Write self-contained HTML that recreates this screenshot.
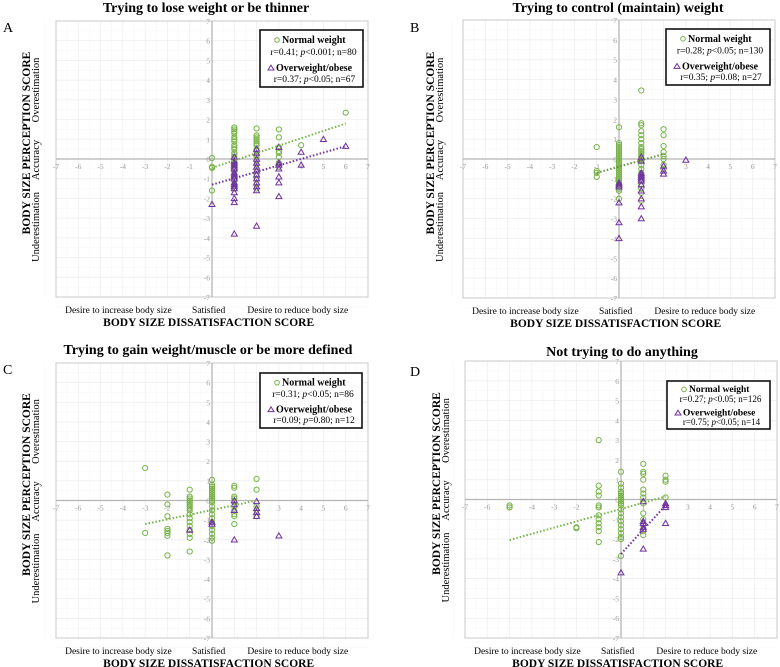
<!DOCTYPE html>
<html><head><meta charset="utf-8"><style>
html,body{margin:0;padding:0;background:#fff;}
svg{display:block;font-family:"Liberation Serif",serif;}
</style></head><body>
<svg id="fig" width="780" height="667" viewBox="0 0 780 667" xmlns="http://www.w3.org/2000/svg"></svg>
<script>
// ---- data (x value, list of y values) ----
const aNormal = [[0,[0.05,-0.4,-0.45,-1.6]],[1,[1.6,1.5,1.4,1.3,1.1,1.0,0.9,0.7,0.6,0.5,0.3,0.2,0.1,0,-0.1,-0.2,-0.3,-0.5,-0.7,-0.9,-1.1,-1.3,-1.5]],[2,[1.55,1.2,1.1,1.0,0.9,0.8,0.7,0.5,0.4,0.2,0.1,-0.1,-0.3,-0.5,-0.8,-1.0,-1.3,-1.5]],[3,[1.5,1.1,0.6,0.4,0.3,0.1,-0.2,-0.4]],[4,[0.7]],[6,[2.35]]];
const aOver = [[0,[-2.3]],[1,[0.1,-0.1,-0.2,-0.3,-0.4,-0.5,-0.7,-0.8,-0.9,-1.0,-1.2,-1.3,-1.4,-1.5,-1.7,-2.0,-2.2,-3.8]],[2,[0.5,0.3,0,-0.2,-0.4,-0.6,-0.8,-1.0,-1.2,-1.4,-1.6,-3.4]],[3,[0.6,-0.2,-0.3,-0.5,-0.9,-1.2,-1.9]],[4,[0.35,-0.3]],[5,[1.0]],[6,[0.65]]];
const bNormal = [[-1,[0.6,-0.6,-0.7,-0.9]],[0,[1.6,0.8,0.7,0.6,0.5,0.4,0.3,0.2,0.1,0,-0.1,-0.2,-0.3,-0.4,-0.5,-0.6,-0.7,-0.8,-0.9,-1.0,-1.1,-1.2,-1.3,-1.4,-1.5,-1.6,-2.0]],[1,[3.45,1.8,1.7,1.4,1.2,1.0,0.8,0.6,0.5,0.4,0.3,0.2,0.1,0,-0.1,-0.3,-0.5,-0.7,-0.9,-1.1,-1.3,-1.5,-1.7,-2.1]],[2,[1.5,1.2,0.65,0.35,0.15,0,-0.3,-0.5]]];
const bOver = [[0,[-1.2,-1.3,-1.4,-2.2,-3.2,-4.0]],[1,[0.1,-0.1,-0.7,-0.8,-0.9,-1.0,-1.1,-1.3,-1.6,-2.0,-2.4,-3.0]],[2,[-0.35,-0.6,-0.75]],[3,[-0.05]]];
const cNormal = [[-3,[1.65,-1.65]],[-2,[0.3,-0.2,-0.8,-1.45,-1.55,-1.65,-1.8,-2.8]],[-1,[0.55,0.2,0.1,0,-0.1,-0.2,-0.3,-0.4,-0.5,-0.7,-0.9,-1.1,-1.3,-1.5,-1.7,-1.9,-2.6]],[0,[1.05,0.8,0.7,0.6,0.5,0.4,0.3,0.2,0.1,0,-0.1,-0.3,-0.5,-0.7,-0.9,-1.1,-1.3,-1.5,-1.7,-1.9,-2.05]],[1,[0.75,0.65,0.2,0.1,-0.1,-0.3,-0.5,-0.7,-0.8,-1.2]],[2,[1.1,0.55,-0.3,-0.5,-0.8]]];
const cOver = [[-1,[-1.5]],[0,[-1.1,-1.2]],[1,[0,-0.2,-0.5,-2.0]],[2,[-0.05,-0.4,-0.6,-0.8]],[3,[-1.8]]];
const dNormal = [[-5,[-0.3,-0.4]],[-2,[-1.4,-1.45]],[-1,[3.0,0.7,0.4,0.2,-0.3,-0.4,-0.8,-1.0,-1.2,-1.4,-1.6,-2.15]],[0,[1.4,0.8,0.6,0.4,0.3,0.2,0.1,0,-0.1,-0.2,-0.3,-0.5,-0.7,-0.9,-1.1,-1.3,-1.5,-1.7,-1.9,-2.0,-2.85]],[1,[1.8,1.4,1.3,1.0,0.5,0.3,0.1,-0.1,-0.2,-0.7,-1.0,-1.3,-1.6,-1.8]],[2,[1.2,1.0,0.9,0.1]]];
const dOver = [[0,[-3.7]],[1,[-0.1,-1.1,-1.2,-1.4,-1.5,-2.5]],[2,[-0.2,-0.3,-0.4,-1.2]]];
// trend lines [x1,y1,x2,y2]
const aTrendN = [0,-0.45,6,1.8];
const aTrendO = [0,-1.3,6,0.65];
const bTrendN = [-1,-0.7,2,0.25];
const cTrendN = [-3,-1.2,2,0];
const dTrendN = [-5,-2.05,2,0.15];
const dTrendO = [0,-2.75,2,-0.3];
const xTicks = [-7,-6,-5,-4,-3,-2,-1,1,2,3,4,5,6,7];
const yTicks = [7,6,5,4,3,2,1,0,-1,-2,-3,-4,-5,-6,-7];
const titles = ["Trying to lose weight or be thinner","Trying to control (maintain) weight","Trying to gain weight/muscle or be more defined","Not trying to do anything"];
const stats = [[["0.41","<0.001","80"],["0.37","<0.05","67"]],[["0.28","<0.05","130"],["0.35","=0.08","27"]],[["0.31","<0.05","86"],["0.09","=0.80","12"]],[["0.27","<0.05","126"],["0.75","<0.05","14"]]];

const G="#77b347", P="#7030a0";
const svg=document.getElementById('fig');
const NS="http://www.w3.org/2000/svg";
function mk(tag,attrs,parent,text){const e=document.createElementNS(NS,tag);for(const k in attrs)e.setAttribute(k,attrs[k]);if(text!==undefined)e.textContent=text;(parent||svg).appendChild(e);return e;}

const panels=[
 {L:"A",x0:56,x1:368,y0:21,y1:297,tx:206,ty:12,Lx:3,lx:260,ly:30,lw:103,lh:57,yl:26,n:aNormal,o:aOver,tr:[[aTrendN,G],[aTrendO,P]]},
 {L:"B",x0:463,x1:775,y0:20,y1:298,tx:618,ty:12,Lx:410,lx:666,ly:29,lw:104,lh:56,yl:430,n:bNormal,o:bOver,tr:[[bTrendN,"#5f8c3a"]]},
 {L:"C",x0:56,x1:368,y0:363,y1:638,tx:208,ty:354,Lx:3,lx:260,ly:373,lw:102,lh:55,yl:26,n:cNormal,o:cOver,tr:[[cTrendN,G]]},
 {L:"D",x0:465,x1:777,y0:361,y1:638,tx:622,ty:356,Lx:410,lx:667,ly:381,lw:103,lh:48,yl:436,n:dNormal,o:dOver,tr:[[dTrendN,G],[dTrendO,P]]}
];

panels.forEach((p,i)=>{
 const g=mk('g',{});
 
 
 const sx=v=>p.x0+(v+7)*(p.x1-p.x0)/14;
 const sy=v=>p.y0+(7-v)*(p.y1-p.y0)/14;
 for(let v=-7;v<=7;v++){
  mk('line',{x1:sx(v),x2:sx(v),y1:p.y0,y2:p.y1,stroke:"#ececec","stroke-width":0.7},g);
  mk('line',{x1:p.x0,x2:p.x1,y1:sy(v),y2:sy(v),stroke:"#ececec","stroke-width":0.7},g);
  mk('line',{x1:sx(v-0.5),x2:sx(v-0.5),y1:p.y0,y2:p.y1,stroke:"#f5f5f5","stroke-width":0.5},g);
  mk('line',{x1:p.x0,x2:p.x1,y1:sy(v-0.5),y2:sy(v-0.5),stroke:"#f5f5f5","stroke-width":0.5},g);
 }
 const fr=mk('rect',{x:p.x0,y:p.y0,width:p.x1-p.x0,height:p.y1-p.y0,fill:"none",stroke:"#c8c8c8","stroke-width":1},g);
 
 
 const ax=mk('line',{x1:p.x0,x2:p.x1,y1:sy(0),y2:sy(0),stroke:"#b5b5b5","stroke-width":1.3},g);
 
 
 const ay=mk('line',{x1:sx(0),x2:sx(0),y1:p.y0,y2:p.y1,stroke:"#b5b5b5","stroke-width":1.3},g);
 
 
 xTicks.forEach(t=>{const e=mk('text',{x:sx(t),y:sy(0)+10,"font-size":7.5,fill:"#999","text-anchor":"middle"},g,String(t));
  
  });
 yTicks.forEach(t=>{const e=mk('text',{x:sx(0)-2,y:sy(t)+3,"font-size":7.5,fill:"#999","text-anchor":"end"},g,String(t));
  
  });
 p.n.forEach(([x,ys])=>ys.forEach(y=>{const c=mk('circle',{cx:sx(x),cy:sy(y),r:2.6,fill:"none",stroke:G,"stroke-width":1},g);
  
  }));
 p.o.forEach(([x,ys])=>ys.forEach(y=>{const X=sx(x),Y=sy(y);const t=mk('polygon',{points:`${X},${Y-3} ${X-3},${Y+2.2} ${X+3},${Y+2.2}`,fill:"none",stroke:P,"stroke-width":1},g);
  
  }));
 p.tr.forEach(([t,col])=>{const l=mk('line',{x1:sx(t[0]),y1:sy(t[1]),x2:sx(t[2]),y2:sy(t[3]),stroke:col,"stroke-width":2,"stroke-dasharray":"1.5,2"},g);
  
  });
 const ti=mk('text',{x:p.tx,y:p.ty,"font-size":14,"font-weight":"bold","text-anchor":"middle"},g,titles[i]);
 
 
 const le=mk('text',{x:p.Lx,y:p.ty+20,"font-size":14},g,p.L);
 
 
 const cy=(p.y0+p.y1)/2;
 const yt=mk('text',{transform:`translate(${p.yl+4},${cy-16}) rotate(-90)`,"font-size":11.5,"font-weight":"bold","text-anchor":"middle"},g,"BODY SIZE PERCEPTION SCORE");
 
 
 [["Overestimation",-69],["Accuracy",1],["Underestimation",68]].forEach(([s,d])=>{
  const e=mk('text',{transform:`translate(${p.yl+13},${cy+d}) rotate(-90)`,"font-size":10.5,"text-anchor":"middle"},g,s);
  
  });
 const xl=[["Desire to increase body size",-4.2],["Satisfied",-0.15],["Desire to reduce body size",3.85]];
 xl.forEach(([s,v])=>{const e=mk('text',{x:sx(v),y:p.y1+16,"font-size":9.5,"text-anchor":"middle"},g,s);
  
  });
 const xt=mk('text',{x:sx(-0.15),y:p.y1+29,"font-size":11.5,"font-weight":"bold","text-anchor":"middle"},g,"BODY SIZE DISSATISFACTION SCORE");
 
 
 const lg=mk('g',{},g);
 
 
 mk('rect',{x:p.lx,y:p.ly,width:p.lw,height:p.lh,fill:"#fff",stroke:"#111","stroke-width":1.6},lg);
 const cx=p.lx+p.lw/2;
 const s=p.lh/57;
 const fs=p.lh<52?9:9.5;
 mk('circle',{cx:p.lx+17,cy:p.ly+10*s,r:2.3,fill:"none",stroke:G,"stroke-width":1},lg);
 const e1=mk('text',{x:p.lx+22,y:p.ly+13*s,"font-size":fs+0.5,"font-weight":"bold"},lg,"Normal weight");
 
 
 const st=(t,y,d)=>{const e=mk('text',{x:cx+d,y:y,"font-size":fs,"text-anchor":"middle"},lg);
  mk('tspan',{},e,"r="+t[0]+"; ");mk('tspan',{"font-style":"italic"},e,"p");mk('tspan',{},e,t[1]+"; n="+t[2]);};
 st(stats[i][0],p.ly+25*s,2);
 const X=p.lx+11,Y=p.ly+38*s;
 mk('polygon',{points:`${X},${Y-2.8} ${X-3},${Y+2} ${X+3},${Y+2}`,fill:"none",stroke:P,"stroke-width":1},lg);
 const e2=mk('text',{x:p.lx+16,y:p.ly+41*s,"font-size":fs+0.5,"font-weight":"bold"},lg,"Overweight/obese");
 
 
 st(stats[i][1],p.ly+52*s,3);
});
</script>
</body></html>
